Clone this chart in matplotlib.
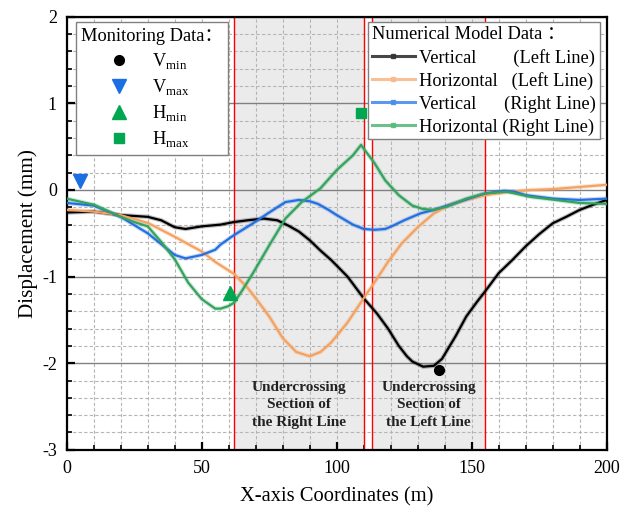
import matplotlib
matplotlib.use("Agg")
import matplotlib.pyplot as plt
from matplotlib.lines import Line2D
from matplotlib.ticker import MultipleLocator

plt.rcParams['font.family'] = ['Liberation Serif', 'Noto Sans CJK SC']
plt.rcParams['mathtext.fontset'] = 'custom'
plt.rcParams['mathtext.rm'] = 'Liberation Serif'
plt.rcParams['axes.unicode_minus'] = False

# ---------------- data ----------------
vl_x = [0, 10, 20, 30, 35, 40, 44, 50, 57, 62, 67, 73, 78, 82, 86, 90, 94, 98, 104, 110,
        115, 119, 123, 126, 128, 132, 136, 139, 144, 148, 152, 155, 160, 165, 170, 175,
        180, 185, 190, 195, 200]
vl_y = [-0.26, -0.25, -0.29, -0.31, -0.35, -0.43, -0.45, -0.42, -0.40, -0.37, -0.35, -0.33,
        -0.35, -0.41, -0.48, -0.58, -0.70, -0.81, -1.00, -1.25, -1.43, -1.60, -1.80, -1.92,
        -1.98, -2.04, -2.03, -1.95, -1.69, -1.46, -1.29, -1.17, -0.96, -0.81, -0.65, -0.51,
        -0.385, -0.31, -0.23, -0.17, -0.115]

hl_x = [0, 10, 20, 30, 40, 50, 55, 62, 67, 70, 75, 80, 85, 90, 94, 98, 104, 110, 115, 119,
        124, 130, 136, 142, 148, 155, 164, 172, 180, 190, 200]
hl_y = [-0.23, -0.25, -0.29, -0.38, -0.54, -0.71, -0.83, -0.97, -1.13, -1.25, -1.46, -1.71,
        -1.87, -1.92, -1.87, -1.76, -1.53, -1.25, -1.02, -0.83, -0.62, -0.43, -0.27, -0.17,
        -0.115, -0.06, -0.02, 0.0, 0.01, 0.035, 0.06]

vr_x = [0, 10, 20, 30, 40, 44, 50, 55, 57, 62, 69, 75, 81, 86, 90, 93, 97, 100, 106, 110,
        114, 118, 121, 125, 131, 136, 142, 148, 155, 162, 166, 170, 175, 180, 190, 200]
vr_y = [-0.15, -0.18, -0.31, -0.50, -0.75, -0.79, -0.75, -0.69, -0.63, -0.52, -0.385, -0.26,
        -0.14, -0.115, -0.13, -0.16, -0.23, -0.29, -0.40, -0.45, -0.46, -0.45, -0.41, -0.35,
        -0.27, -0.23, -0.17, -0.11, -0.04, -0.01, -0.02, -0.06, -0.08, -0.10, -0.115, -0.10]

hr_x = [0, 10, 20, 25, 30, 35, 40, 45, 50, 55, 57, 60, 62, 65, 69, 75, 81, 87, 94, 100,
        106, 109, 114, 118, 123, 128, 132, 136, 141, 148, 155, 163, 172, 180, 190, 200]
hr_y = [-0.10, -0.17, -0.31, -0.37, -0.42, -0.60, -0.80, -1.07, -1.26, -1.37, -1.37, -1.34,
        -1.30, -1.16, -0.96, -0.64, -0.33, -0.14, 0.02, 0.23, 0.40, 0.52, 0.31, 0.11, -0.06,
        -0.18, -0.22, -0.23, -0.19, -0.10, -0.04, -0.02, -0.08, -0.11, -0.15, -0.16]

# monitoring data
mon_labels = [r'V$_{\mathrm{min}}$', r'V$_{\mathrm{max}}$', r'H$_{\mathrm{min}}$', r'H$_{\mathrm{max}}$']
mon_x = [138, 5, 60.5, 109]
mon_y = [-2.08, 0.1, -1.19, 0.89]

model_labels = ['Vertical        (Left Line)', 'Horizontal   (Left Line)',
                'Vertical      (Right Line)', 'Horizontal (Right Line)']

section_right = (62, 110)
section_left = (113, 155)
red_lines = [62, 110, 113, 155]

# ---------------- figure ----------------
fig = plt.figure(figsize=(6.3, 5.13), dpi=100)
ax = fig.add_axes([0.1059, 0.1232, 0.8571, 0.8441])

ax.set_xlim(0, 200)
ax.set_ylim(-3, 2)

ax.axvspan(*section_right, color='#ebebeb', zorder=0, lw=0)
ax.axvspan(*section_left, color='#ebebeb', zorder=0, lw=0)
for xv in red_lines:
    ax.axvline(xv, color='#ff0000', lw=1.0, zorder=1)

ax.xaxis.set_major_locator(MultipleLocator(50))
ax.xaxis.set_minor_locator(MultipleLocator(10))
ax.yaxis.set_major_locator(MultipleLocator(1))
ax.yaxis.set_minor_locator(MultipleLocator(0.2))
ax.set_axisbelow(True)
ax.xaxis.grid(True, which='both', color='#b5b5b5', ls=(0, (3, 2)), lw=0.8)
ax.yaxis.grid(True, which='minor', color='#b5b5b5', ls=(0, (3, 2)), lw=0.8)
ax.yaxis.grid(True, which='major', color='#808080', ls='-', lw=1.0)

colors = ['#000000', '#F4A261', '#2470E0', '#33A35D']
series = [(vl_x, vl_y), (hl_x, hl_y), (vr_x, vr_y), (hr_x, hr_y)]
for (sx, sy), c in zip(series, colors):
    ax.plot(sx, sy, color=c, lw=3.2, alpha=0.25, zorder=3, solid_capstyle='round',
            solid_joinstyle='round')
    ax.plot(sx, sy, color=c, lw=1.6, zorder=4, solid_joinstyle='round')

mon_styles = [dict(marker='o', color='#000000', ms=7),
              dict(marker='v', color='#1C6FE0', ms=10),
              dict(marker='^', color='#00A650', ms=10),
              dict(marker='s', color='#00A650', ms=7.5)]
for xv, yv, st in zip(mon_x, mon_y, mon_styles):
    ax.plot([xv], [yv], ls='none', marker=st['marker'], color=st['color'],
            ms=st['ms'], zorder=6, clip_on=False)

ax.text(86, -2.48, 'Undercrossing\nSection of\nthe Right Line', ha='center', va='center',
        fontsize=11, fontweight='bold', color='#222222', linespacing=1.45, zorder=5)
ax.text(134, -2.48, 'Undercrossing\nSection of\nthe Left Line', ha='center', va='center',
        fontsize=11, fontweight='bold', color='#222222', linespacing=1.45, zorder=5)

for s in ax.spines.values():
    s.set_linewidth(1.6)
ax.tick_params(which='both', direction='in', top=False, right=False, labelsize=13, pad=7)
ax.tick_params(which='major', length=6, width=1.6)
ax.tick_params(which='minor', length=3.5, width=1.2)

ax.set_xlabel('X-axis Coordinates (m)', fontsize=14.8, labelpad=8)
ax.set_ylabel('Displacement (mm)', fontsize=15.2, labelpad=3)

# legends
mon_handles = [Line2D([], [], ls='none', marker=st['marker'], color=st['color'], ms=st['ms'])
               for st in mon_styles]
leg1 = ax.legend(mon_handles, mon_labels, title='Monitoring Data：', loc='upper left',
                 bbox_to_anchor=(0.0167, 0.987), fontsize=13.2, title_fontsize=13.2,
                 handlelength=4.1, handletextpad=-0.25, labelspacing=0.33, borderpad=0.3,
                 frameon=True, fancybox=False, edgecolor='#808080', framealpha=1,
                 alignment='left', borderaxespad=0)
leg1.get_frame().set_linewidth(1.0)
ax.add_artist(leg1)

light = ['#333333', '#F9B98A', '#4A8EEA', '#5BBA7E']
model_handles = [Line2D([], [], color=c, lw=2.2, marker='s', ms=2.5, markerfacecolor=c,
                        markeredgecolor=c, alpha=0.9) for c in light]
leg2 = ax.legend(model_handles, model_labels, title='Numerical Model Data ：', loc='upper right',
                 bbox_to_anchor=(0.987, 0.987), fontsize=13.2, title_fontsize=13.2,
                 handlelength=2.35, handletextpad=0.25, labelspacing=0.3, borderpad=0.2,
                 frameon=True, fancybox=False, edgecolor='#808080', framealpha=1,
                 alignment='left', borderaxespad=0, markerfirst=True)
leg2.get_frame().set_linewidth(1.0)

fig.savefig('out.png', dpi=100)
